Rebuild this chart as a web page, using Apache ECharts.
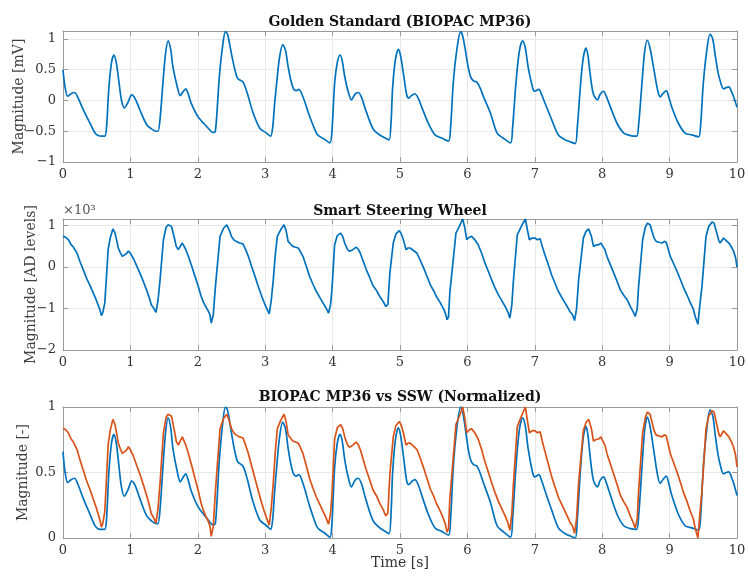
<!DOCTYPE html>
<html>
<head>
<meta charset="utf-8">
<script src="https://cdn.jsdelivr.net/npm/echarts@6/dist/echarts.min.js"></script>
<style>
  html, body { margin: 0; padding: 0; background: #ffffff; }
  #chart { width: 748px; height: 576px; }
</style>
</head>
<body>
<div id="chart"></div>
<script>
// BIOPAC MP36 reference recording, time [s] and magnitude [mV]
const bioTime = [
  0.00,0.03,0.07,0.12,0.17,0.22,0.30,0.40,0.47,0.52,0.58,0.62,0.645,0.68,0.72,0.757,0.79,0.82,0.865,0.91,
  0.96,1.02,1.07,1.14,1.24,1.31,1.385,1.41,1.44,1.48,1.52,1.56,1.60,1.63,1.70,1.74,1.78,1.82,1.86,1.90,
  2.00,2.13,2.23,2.26,2.29,2.32,2.37,2.41,2.44,2.47,2.51,2.55,2.59,2.63,2.67,2.71,2.75,2.82,2.92,3.02,
  3.08,3.11,3.14,3.17,3.21,3.26,3.30,3.34,3.38,3.42,3.46,3.50,3.56,3.66,3.76,3.80,3.88,3.96,3.99,4.03,
  4.07,4.11,4.14,4.18,4.23,4.28,4.33,4.38,4.43,4.48,4.60,4.70,4.80,4.84,4.87,4.89,4.93,4.975,5.01,5.05,
  5.10,5.13,5.17,5.22,5.27,5.32,5.42,5.52,5.62,5.72,5.75,5.79,5.84,5.90,5.93,5.965,6.01,6.05,6.09,6.14,
  6.19,6.24,6.34,6.44,6.53,6.64,6.67,6.72,6.77,6.82,6.86,6.90,6.97,7.00,7.06,7.10,7.15,7.25,7.35,7.45,
  7.52,7.60,7.63,7.68,7.72,7.76,7.79,7.82,7.87,7.93,7.97,8.02,8.06,8.12,8.22,8.32,8.42,8.51,8.54,8.59,
  8.63,8.67,8.71,8.76,8.82,8.86,8.90,8.95,8.99,9.03,9.13,9.23,9.33,9.43,9.46,9.50,9.55,9.60,9.64,9.68,
  9.72,9.75,9.80,9.84,9.88,9.92,9.95,10.00
];
const bioValue = [
  0.50,0.22,0.07,0.11,0.13,0.05,-0.15,-0.37,-0.52,-0.57,-0.58,-0.58,-0.45,0.20,0.62,0.74,0.62,0.39,0.02,-0.12,
  -0.04,0.09,0.03,-0.15,-0.39,-0.46,-0.50,-0.50,-0.30,0.25,0.75,0.97,0.82,0.55,0.20,0.08,0.14,0.19,0.10,-0.04,
  -0.26,-0.42,-0.52,-0.50,-0.10,0.39,0.90,1.12,1.08,0.93,0.70,0.50,0.36,0.33,0.30,0.20,0.06,-0.20,-0.45,-0.53,
  -0.58,-0.45,-0.05,0.28,0.68,0.91,0.82,0.55,0.33,0.19,0.16,0.18,0.06,-0.26,-0.53,-0.58,-0.63,-0.69,-0.50,0.28,
  0.62,0.74,0.66,0.39,0.15,0.01,0.10,0.13,0.05,-0.12,-0.46,-0.56,-0.62,-0.64,-0.30,0.20,0.65,0.83,0.72,0.44,
  0.09,0.04,0.08,0.11,0.04,-0.10,-0.37,-0.56,-0.61,-0.66,-0.45,0.28,0.80,1.12,1.05,0.85,0.55,0.38,0.32,0.30,
  0.20,0.06,-0.20,-0.53,-0.61,-0.69,-0.45,0.28,0.80,0.97,0.85,0.55,0.20,0.15,0.18,0.10,-0.04,-0.31,-0.56,-0.64,
  -0.67,-0.70,-0.45,0.28,0.70,0.85,0.72,0.44,0.10,0.01,0.10,0.15,0.07,-0.10,-0.37,-0.53,-0.57,-0.58,-0.40,0.28,
  0.80,0.98,0.85,0.55,0.18,0.06,0.11,0.16,0.05,-0.10,-0.37,-0.53,-0.56,-0.59,-0.40,0.28,0.80,1.08,1.00,0.71,
  0.45,0.32,0.19,0.21,0.22,0.14,0.06,-0.11
];

// Smart Steering Wheel recording, time [s] and magnitude [AD levels]
const sswTime = [
  0.00,0.03,0.05,0.08,0.12,0.15,0.17,0.21,0.25,0.30,0.35,0.40,0.45,0.49,0.52,0.55,0.57,0.59,0.62,0.65,
  0.67,0.70,0.74,0.77,0.80,0.82,0.85,0.88,0.92,0.95,0.97,1.00,1.04,1.09,1.14,1.19,1.24,1.28,1.31,1.35,
  1.38,1.41,1.44,1.49,1.53,1.56,1.61,1.65,1.68,1.71,1.73,1.77,1.82,1.86,1.91,1.96,2.01,2.05,2.09,2.13,
  2.16,2.18,2.20,2.23,2.26,2.28,2.33,2.38,2.43,2.47,2.50,2.54,2.57,2.62,2.67,2.71,2.75,2.80,2.85,2.90,
  2.95,2.99,3.02,3.06,3.09,3.12,3.15,3.18,3.23,3.28,3.31,3.34,3.38,3.41,3.45,3.49,3.52,3.56,3.61,3.66,
  3.71,3.76,3.81,3.86,3.90,3.94,3.97,3.99,4.03,4.07,4.12,4.15,4.18,4.22,4.25,4.30,4.35,4.38,4.41,4.45,
  4.50,4.55,4.60,4.65,4.70,4.75,4.79,4.82,4.85,4.90,4.94,4.99,5.02,5.05,5.09,5.12,5.15,5.20,5.25,5.30,
  5.35,5.40,5.45,5.50,5.54,5.59,5.64,5.67,5.70,5.72,5.74,5.77,5.83,5.88,5.93,5.96,5.99,6.03,6.06,6.11,
  6.16,6.21,6.26,6.31,6.36,6.41,6.46,6.51,6.56,6.60,6.63,6.66,6.68,6.74,6.80,6.86,6.89,6.92,6.96,7.00,
  7.04,7.08,7.11,7.15,7.20,7.25,7.30,7.35,7.40,7.45,7.49,7.52,7.56,7.59,7.62,7.65,7.72,7.76,7.80,7.84,
  7.87,7.91,7.95,7.98,8.00,8.04,8.07,8.12,8.17,8.22,8.27,8.32,8.37,8.42,8.46,8.49,8.52,8.54,8.60,8.64,
  8.67,8.71,8.74,8.77,8.80,8.84,8.89,8.92,8.95,9.01,9.06,9.11,9.16,9.21,9.26,9.31,9.35,9.38,9.42,9.45,
  9.48,9.54,9.58,9.63,9.66,9.70,9.73,9.75,9.80,9.84,9.88,9.92,9.95,9.98,10.00
];
const sswValue = [
  740,730,700,660,540,490,460,330,140,-60,-270,-440,-630,-780,-910,-1040,-1170,-1100,-870,-100,
  420,700,920,830,620,460,350,260,300,340,390,330,220,40,-140,-340,-550,-740,-910,-1000,
  -1090,-800,-310,660,960,1020,980,720,500,420,430,580,430,260,20,-230,-480,-710,-870,-990,
  -1070,-1150,-1350,-1150,-500,-140,740,930,1020,880,740,650,620,580,560,420,260,10,-230,-480,
  -710,-880,-990,-1130,-800,-310,300,740,900,1020,880,620,550,500,480,460,380,260,20,-230,
  -420,-590,-730,-870,-980,-1110,-900,-550,540,760,820,740,580,430,380,420,480,430,340,160,
  -60,-250,-450,-560,-710,-830,-950,-900,-140,580,800,880,800,660,420,460,460,400,340,170,
  -20,-220,-430,-570,-710,-840,-990,-1100,-1270,-1200,-600,-140,820,980,1160,960,660,720,740,660,
  540,340,100,-100,-310,-500,-670,-810,-950,-1080,-1230,-900,-390,780,980,1160,900,660,700,700,
  660,680,500,300,60,-190,-390,-590,-730,-870,-980,-1070,-1150,-1290,-1000,-310,700,860,920,740,
  500,530,540,580,600,420,260,60,-140,-340,-550,-680,-790,-960,-1080,-1190,-1000,-470,660,960,
  1060,1020,860,700,620,600,580,620,600,260,80,-100,-300,-510,-680,-870,-1000,-1190,-1380,-900,
  -470,740,980,1090,1060,820,640,580,700,640,580,480,380,220,0
];

// Axis ranges and tick spacing for the three panels
const timeTicks = { min: 0, max: 10, step: 1 };
const bioAxis = { min: -1, max: 1.13, step: 0.5 };
const sswAxis = { min: -2000, max: 1160, step: 1000 };
const normAxis = { min: 0, max: 1, step: 0.5 };

const BLUE = '#0072BD';
const ORANGE = '#D95319';
const FONT = 'DejaVu Serif';

function pairs(t, v) { return t.map((x, i) => [x, v[i]]); }
// min-max normalisation of a recording onto [0, 1]
function normalize(t, v) {
  const lo = Math.min(...v), hi = Math.max(...v);
  return t.map((x, i) => [x, (v[i] - lo) / (hi - lo)]);
}
const minus = s => String(s).replace('-', '\u2212');

const gridBase = { left: 63, right: 11, height: 131, containLabel: false, outerBoundsMode: 'none' };
const grids = [
  Object.assign({ top: 31 }, gridBase),
  Object.assign({ top: 219 }, gridBase),
  Object.assign({ top: 407 }, gridBase)
];

const boxColor = '#9a9a9a';
const labelStyle = { color: '#333333', fontFamily: FONT, fontSize: 13 };

function xAxes(gi) {
  return [
    {
      type: 'value', gridIndex: gi, position: 'bottom',
      min: timeTicks.min, max: timeTicks.max, interval: timeTicks.step,
      axisLine: { show: true, onZero: false, lineStyle: { color: boxColor, width: 1 } },
      axisTick: { show: true, inside: true, length: 5, lineStyle: { color: boxColor } },
      axisLabel: Object.assign({ margin: 6 }, labelStyle),
      splitLine: { show: true, lineStyle: { color: '#e8e8e8', width: 1 } }
    },
    {
      type: 'value', gridIndex: gi, position: 'top',
      min: timeTicks.min, max: timeTicks.max, interval: timeTicks.step,
      axisLine: { show: true, onZero: false, lineStyle: { color: boxColor, width: 1 } },
      axisTick: { show: true, inside: true, length: 5, lineStyle: { color: boxColor } },
      axisLabel: { show: false },
      splitLine: { show: false }
    }
  ];
}

function yAxes(gi, ax, name, gap, fmt) {
  return [
    {
      type: 'value', gridIndex: gi, position: 'left',
      min: ax.min, max: ax.max, interval: ax.step,
      name: name, nameLocation: 'middle', nameGap: gap, nameMoveOverlap: false,
      nameTextStyle: { color: '#404040', fontFamily: FONT, fontSize: 14 },
      axisLine: { show: true, onZero: false, lineStyle: { color: boxColor, width: 1 } },
      axisTick: { show: true, inside: true, length: 5, lineStyle: { color: boxColor } },
      axisLabel: Object.assign({ margin: 7, showMaxLabel: ax.max % ax.step === 0, formatter: fmt }, labelStyle),
      splitLine: { show: true, lineStyle: { color: '#e8e8e8', width: 1 } }
    },
    {
      type: 'value', gridIndex: gi, position: 'right',
      min: ax.min, max: ax.max, interval: ax.step,
      axisLine: { show: true, onZero: false, lineStyle: { color: boxColor, width: 1 } },
      axisTick: { show: true, inside: true, length: 5, lineStyle: { color: boxColor } },
      axisLabel: { show: false },
      splitLine: { show: false }
    }
  ];
}

const xAxis = [].concat(xAxes(0), xAxes(1), xAxes(2));
const yAxis = [].concat(
  yAxes(0, bioAxis, 'Magnitude [mV]', 37, v => minus(v)),
  yAxes(1, sswAxis, 'Magnitude [AD levels]', 25, v => minus(v / 1000)),
  yAxes(2, normAxis, 'Magnitude [-]', 33, v => minus(v))
);

function line(xi, yi, data, color, smooth) {
  return {
    type: 'line', xAxisIndex: xi, yAxisIndex: yi, data: data,
    showSymbol: false, smooth: smooth, animation: false,
    lineStyle: { color: color, width: 1.7 }, z: 3
  };
}

const series = [
  line(0, 0, pairs(bioTime, bioValue), BLUE, 0.3),
  line(2, 2, pairs(sswTime, sswValue), BLUE, false),
  line(4, 4, normalize(bioTime, bioValue), BLUE, 0.3),
  line(4, 4, normalize(sswTime, sswValue), ORANGE, false)
];

function text(str, x, y, font, fill, align) {
  return {
    type: 'text', x: x, y: y, silent: true,
    style: { text: str, font: font, fill: fill, align: align || 'center', verticalAlign: 'middle' }
  };
}

const graphic = [
  text('Golden Standard (BIOPAC MP36)', 400, 22, 'bold 14px "' + FONT + '"', '#111111'),
  text('Smart Steering Wheel', 400, 211, 'bold 14px "' + FONT + '"', '#111111'),
  text('BIOPAC MP36 vs SSW (Normalized)', 400, 397, 'bold 14px "' + FONT + '"', '#111111'),
  text('\u00d710\u00b3', 63, 211, '13px "' + FONT + '"', '#555555', 'left'),
  text('Time [s]', 400, 563, '14px "' + FONT + '"', '#333333')
];

const chart = echarts.init(document.getElementById('chart'), null, { renderer: 'canvas' });
chart.setOption({
  animation: false,
  backgroundColor: '#ffffff',
  grid: grids,
  xAxis: xAxis,
  yAxis: yAxis,
  series: series,
  graphic: graphic
});
</script>
</body>
</html>
